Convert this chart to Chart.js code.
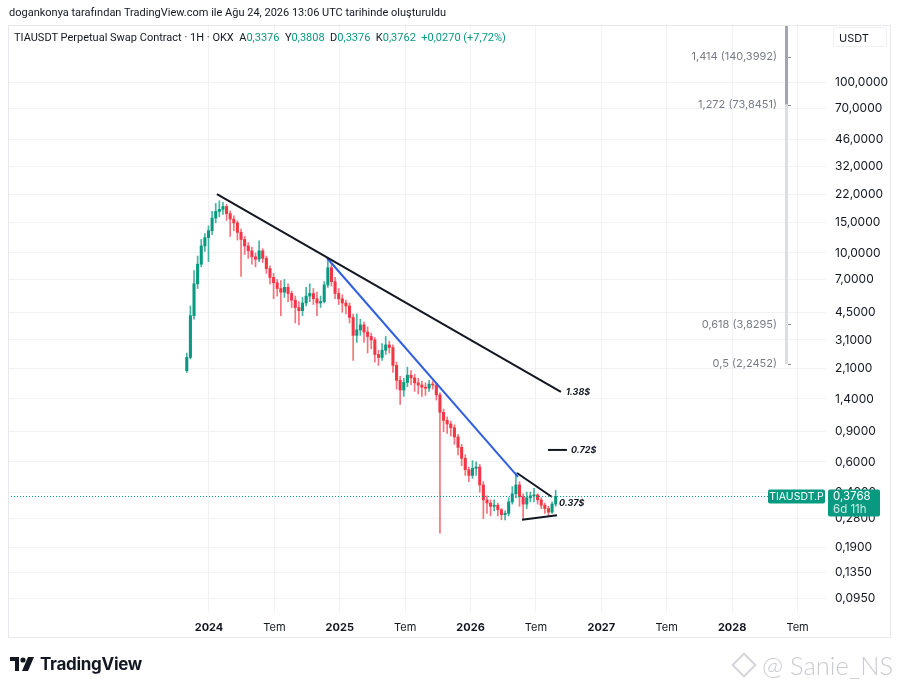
<!DOCTYPE html>
<html lang="tr">
<head>
<meta charset="utf-8">
<title>TIAUSDT</title>
<script src="https://cdn.jsdelivr.net/npm/chart.js@4.4.1/dist/chart.umd.min.js"></script>
<style>
body{margin:0;background:#fff;font-family:Roboto,"Noto Sans",sans-serif;color:#131722;}
#wrap{position:relative;width:900px;height:689px;overflow:hidden;}
canvas{position:absolute;left:0;top:0;}
#made{position:absolute;left:9px;top:6px;font-size:11px;}
#frame{position:absolute;left:8px;top:25px;width:883px;height:613px;border:1px solid #e6e8ee;box-sizing:border-box;pointer-events:none;}
#hdr{position:absolute;left:14px;top:31px;font-size:11px;white-space:pre;}
#hdr .g{color:#089981;}
#unit{position:absolute;left:833px;top:27px;width:54px;height:20px;border:1px solid #eef0f3;border-radius:3px;font-size:11px;line-height:20px;padding-left:5px;box-sizing:border-box;font-family:Inter,sans-serif;}
#logo{position:absolute;left:10px;top:654px;display:flex;align-items:center;font-size:17px;font-weight:bold;letter-spacing:-0.3px;font-family:Inter,sans-serif;}
#logo svg{margin-right:6px;}
#mark{position:absolute;left:731px;top:650px;font-size:25.5px;color:#c9cbd0;font-family:Lato,"Noto Sans",sans-serif;font-weight:300;display:flex;align-items:center;white-space:nowrap;}
#mark i{display:inline-block;width:14px;height:14px;border:2px solid #d3d5da;transform:rotate(45deg);margin:0 9px 0 4px;}
</style>
</head>
<body>
<div id="wrap">
<canvas id="tiaChart" width="900" height="689"></canvas>
<div id="frame"></div>
<div id="made">dogankonya tarafından TradingView.com ile Ağu 24, 2026 13:06 UTC tarihinde oluşturuldu</div>
<div id="hdr">TIAUSDT Perpetual Swap Contract · 1H · OKX  A<span class="g">0,3376</span>  Y<span class="g">0,3808</span>  D<span class="g">0,3376</span>  K<span class="g">0,3762</span>  <span class="g">+0,0270 (+7,72%)</span></div>
<div id="unit">USDT</div>
<div id="logo"><svg width="24" height="14" viewBox="0 0 24 14"><path d="M0 0h9v14H5V4H0z" fill="#131722"/><circle cx="13" cy="3" r="2.6" fill="#131722"/><path d="M18 0h6l-6 14h-6z" fill="#131722"/></svg>TradingView</div>
<div id="mark"><i></i>@ Sanie_NS</div>
</div>
<script>
const ctx = document.getElementById('tiaChart');

/* candles: roughly one every 10 days from listing */
const firstCandleDate = "2023-10-31";
const candleDays = 10.1;

const opens = [
2.05,2.45,4.3,6.6,8.6,11.0,12.3,13.5,16.0,17.5,
18.0,18.7,17.0,15.8,15.0,13.2,12.0,11.0,10.3,9.5,
9.2,10.3,9.3,8.1,7.2,6.7,6.2,5.9,6.3,5.8,
5.3,4.8,4.6,5.1,5.6,5.8,5.4,5.1,5.2,6.5,
8.2,6.8,5.8,5.4,5.1,4.9,4.2,3.3,3.55,3.8,
3.45,3.25,3.1,2.55,2.45,2.7,2.9,2.8,2.2,1.8,
1.58,1.75,1.93,1.86,1.74,1.69,1.64,1.62,1.71,1.69,
1.48,1.17,1.05,1.0,0.95,0.84,0.73,0.63,0.54,0.5,
0.55,0.56,0.44,0.36,0.345,0.33,0.335,0.315,0.295,0.3,
0.35,0.39,0.44,0.375,0.34,0.37,0.38,0.385,0.36,0.335,
0.32,0.305,0.34
];
const highs = [
2.6,4.9,7.9,9.6,12.0,13.0,14.4,17.5,19.5,20.2,
19.8,19.2,17.6,16.5,15.4,13.8,12.5,11.5,10.8,10.0,
11.8,10.6,9.6,8.4,7.6,7.0,6.9,7.0,6.6,6.0,
5.6,5.2,5.5,6.3,6.6,6.2,5.9,5.6,6.8,9.3,
8.6,7.2,6.2,5.7,5.3,5.1,4.4,4.4,4.1,3.95,
3.7,3.4,3.2,2.7,2.95,3.25,3.05,2.9,2.3,1.9,
1.85,2.15,2.05,1.95,1.85,1.78,1.74,1.8,1.78,1.74,
1.52,1.22,1.1,1.04,0.99,0.87,0.76,0.66,0.56,0.61,
0.6,0.58,0.46,0.38,0.36,0.36,0.345,0.32,0.31,0.37,
0.43,0.52,0.46,0.39,0.4,0.4,0.42,0.39,0.37,0.345,
0.33,0.35,0.41
];
const lows = [
2.0,2.4,4.1,6.2,8.3,10.2,8.9,12.8,15.0,16.3,
16.8,15.5,12.5,13.5,11.9,7.3,9.8,9.3,8.6,8.3,
8.9,8.8,7.6,6.6,5.4,5.6,4.3,5.5,5.2,4.8,
3.9,3.8,4.3,4.9,5.2,5.0,4.3,4.8,5.1,6.3,
6.4,5.4,5.0,4.5,4.4,3.9,2.35,3.0,3.3,3.0,
2.6,2.75,2.3,2.2,2.35,2.55,2.6,2.0,1.6,1.3,
1.45,1.65,1.7,1.55,1.5,1.45,1.47,1.55,1.6,1.38,
0.23,0.9,0.88,0.85,0.76,0.66,0.57,0.5,0.46,0.48,
0.5,0.4,0.28,0.3,0.29,0.31,0.29,0.275,0.275,0.29,
0.34,0.37,0.33,0.28,0.32,0.35,0.35,0.34,0.32,0.3,
0.29,0.3,0.33
];
const closes = [
2.45,4.3,6.6,8.6,11.0,12.3,13.5,16.0,17.5,18.0,
18.7,17.0,15.8,15.0,13.2,12.0,11.0,10.3,9.5,9.2,
10.3,9.3,8.1,7.2,6.7,6.2,5.9,6.3,5.8,5.3,
4.8,4.6,5.1,5.6,5.8,5.4,5.1,5.2,6.5,8.2,
6.8,5.8,5.4,5.1,4.9,4.2,3.3,3.55,3.8,3.45,
3.25,3.1,2.55,2.45,2.7,2.9,2.8,2.2,1.8,1.58,
1.75,1.93,1.86,1.74,1.69,1.64,1.62,1.71,1.69,1.48,
1.17,1.05,1.0,0.95,0.84,0.73,0.63,0.54,0.5,0.55,
0.56,0.44,0.36,0.345,0.33,0.335,0.315,0.295,0.3,0.35,
0.39,0.44,0.375,0.34,0.37,0.38,0.385,0.36,0.335,0.32,
0.305,0.34,0.3768
];

/* drawn lines, x in months from Jan 2024 */
const resistMonths = [0.73, 32.29];
const resistPrices = [22.1, 1.54];
const blueMonths = [10.83, 28.35];
const bluePrices = [9.35, 0.49];
const wedgeTopMonths = [28.26, 31.47];
const wedgeTopPrices = [0.517, 0.374];
const wedgeLowMonths = [28.72, 31.93];
const wedgeLowPrices = [0.275, 0.293];
const targetMonths = [31.1, 32.84];
const targetPrices = [0.705, 0.705];

const noteTexts = ["1.38$", "0.72$", "0.37$"];
const noteMonths = [32.75, 33.21, 32.11];
const notePrices = [1.54, 0.705, 0.345];

/* fib extension on the right */
const fibMonth = 52.94;
const fibRatios = ["1,414", "1,272", "0,618", "0,5"];
const fibPrices = [140.3992, 73.8451, 3.8295, 2.2452];

/* axes */
const yTicks = [100,70,46,32,22,15,10,7,4.5,3.1,2.1,1.4,0.9,0.6,0.4,0.28,0.19,0.135,0.095];
const xTickMonths = [0,6,12,18,24,30,36,42,48,54];
const xTickLabels = ["2024","Tem","2025","Tem","2026","Tem","2027","Tem","2028","Tem"];
const symbol = "TIAUSDT.P";
const countdown = "6d 11h";

const GREEN = "#089981", RED = "#f23645";
const fmt = v => v.toFixed(4).replace(".", ",");

const DAY = 86400000;
const jan2024 = Date.UTC(2024, 0, 1);
const monthOf = i => (Date.parse(firstCandleDate) + i * candleDays * DAY - jan2024) / DAY / 30.4375;
const up = i => closes[i] >= opens[i];

const bodies = opens.map((o, i) => ({x: monthOf(i), y: [o, closes[i]]}));
const wicks = lows.map((l, i) => ({x: monthOf(i), y: [l, highs[i]]}));
const pts = (ms, ps) => ms.map((m, k) => ({x: m, y: ps[k]}));

function seg(ms, ps, color){
  return {type:"line", data:pts(ms, ps), borderColor:color, borderWidth:2, pointRadius:0, order:1};
}

const overlay = {
  id:"overlay",
  afterDatasetsDraw(chart){
    const {ctx:c, scales:{x, y}, chartArea:a} = chart;
    c.save();
    // fib bar
    const fx = Math.round(x.getPixelForValue(fibMonth));
    const y1 = y.getPixelForValue(fibPrices[1]);
    const y3 = y.getPixelForValue(fibPrices[3]);
    c.fillStyle = "#dcdee3";
    c.fillRect(fx - 1, y1, 3, y3 - y1);
    c.fillStyle = "#a3a6ae";
    c.fillRect(fx - 1, a.top, 3, y1 - a.top);
    c.font = "11px Inter";
    c.textAlign = "right";
    c.textBaseline = "middle";
    fibPrices.forEach((p, k) => {
      const py = y.getPixelForValue(p);
      c.fillStyle = "#8a8d96";
      c.fillRect(fx + 2, Math.round(py), 3, 1);
      c.fillStyle = "#787b86";
      c.fillText(fibRatios[k] + " (" + fmt(p) + ")", fx - 9, py);
    });
    // notes
    c.font = "bold italic 9px Inter";
    c.textAlign = "left";
    c.fillStyle = "#131722";
    noteTexts.forEach((t, k) => c.fillText(t, x.getPixelForValue(noteMonths[k]), y.getPixelForValue(notePrices[k])));
    // last price dotted line
    const last = closes[closes.length - 1];
    const py = Math.round(y.getPixelForValue(last)) + 0.5;
    c.strokeStyle = GREEN;
    c.lineWidth = 1;
    c.setLineDash([1, 2]);
    c.beginPath(); c.moveTo(a.left, py); c.lineTo(a.right, py); c.stroke();
    c.restore();
  },
  afterDraw(chart){
    const {ctx:c, scales:{y}, chartArea:a} = chart;
    const last = closes[closes.length - 1];
    const py = y.getPixelForValue(last);
    c.save();
    c.fillStyle = GREEN;
    c.beginPath(); c.roundRect(a.right - 58, py - 7, 57, 14, 2); c.fill();
    c.beginPath(); c.roundRect(a.right + 2, py - 7, 52, 27, 2); c.fill();
    c.fillStyle = "#fff";
    c.font = "10.5px Inter";
    c.textBaseline = "middle";
    c.textAlign = "center";
    c.fillText(symbol, a.right - 29.5, py);
    c.textAlign = "left";
    c.font = "11.5px Inter";
    c.fillText(fmt(last), a.right + 7, py);
    c.fillStyle = "rgba(255,255,255,0.8)";
    c.fillText(countdown, a.right + 7, py + 13);
    c.restore();
  }
};

Chart.defaults.font.family = "Inter";

new Chart(ctx, {
  type:"bar",
  data:{
    datasets:[
      {data:wicks, grouped:false, barThickness:1, order:3,
       backgroundColor:c => up(c.dataIndex) ? "rgba(8,153,129,0.75)" : "rgba(242,54,69,0.7)"},
      {data:bodies, grouped:false, barThickness:2.4, minBarLength:1, order:2,
       backgroundColor:c => up(c.dataIndex) ? GREEN : RED},
      seg(resistMonths, resistPrices, "#131722"),
      seg(blueMonths, bluePrices, "#2f5fe0"),
      seg(wedgeTopMonths, wedgeTopPrices, "#131722"),
      seg(wedgeLowMonths, wedgeLowPrices, "#131722"),
      seg(targetMonths, targetPrices, "#131722")
    ]
  },
  options:{
    responsive:false,
    animation:false,
    layout:{padding:{left:8, top:25, right:9, bottom:51}},
    plugins:{legend:{display:false}, tooltip:{enabled:false}},
    scales:{
      x:{
        type:"linear", min:-18.44, max:56.61, offset:false,
        afterBuildTicks:s => { s.ticks = xTickMonths.map(v => ({value:v})); },
        afterFit:s => { s.height = 26; },
        grid:{color:"#f1f2f5", drawTicks:false, offset:false},
        border:{display:false},
        ticks:{
          autoSkip:false, maxRotation:0, padding:9, color:"#131722",
          font:c => ({family:"Inter", size:11, weight:/^\d+$/.test(xTickLabels[c.index]) ? "bold" : "normal"}),
          callback:(v, i) => xTickLabels[i]
        }
      },
      y:{
        type:"logarithmic", position:"right", min:0.0795, max:215.5,
        afterBuildTicks:s => { s.ticks = yTicks.map(v => ({value:v})); },
        afterFit:s => { s.width = 65; },
        grid:{color:"#f1f2f5", drawTicks:false},
        border:{display:false},
        ticks:{padding:9, color:"#131722", font:{size:12}, callback:v => fmt(v)}
      }
    }
  },
  plugins:[overlay]
});
</script>
</body>
</html>
